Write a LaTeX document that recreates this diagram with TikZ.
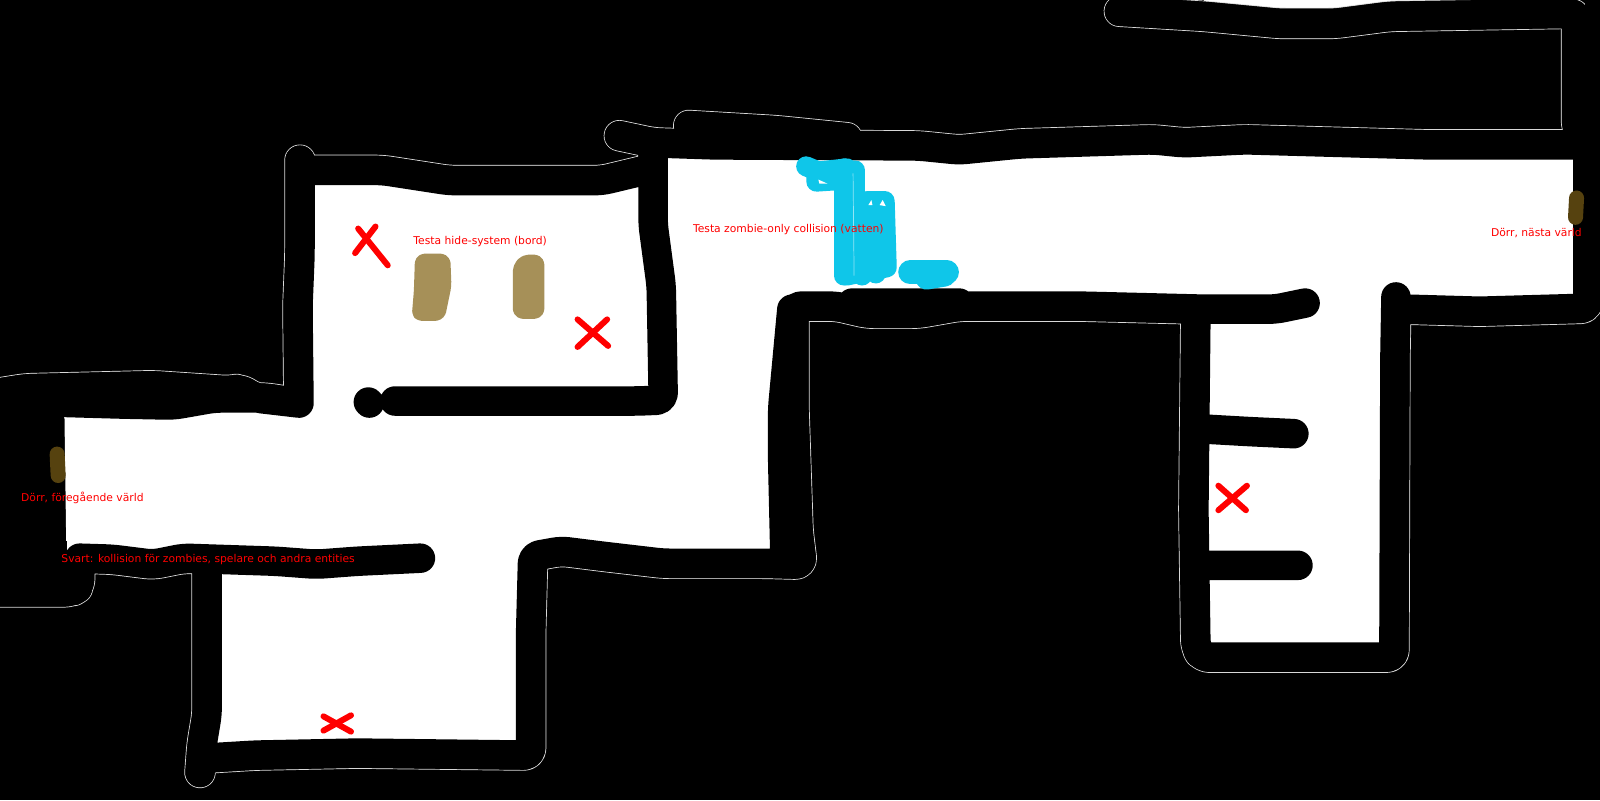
\documentclass[tikz,border=0pt]{standalone}
\usepackage{fontspec}
\setmainfont{DejaVu Sans}
\definecolor{watercol}{HTML}{0FC6E9}
\definecolor{tablecol}{HTML}{A69058}
\definecolor{doorcol}{HTML}{56420F}
\definecolor{edgecol}{HTML}{D8D8D8}
\newcommand{\wallpaths}{
	%top right strip
	(1097,11) -- (1180,16) -- (1254,23) -- (1308,23) -- (1362,16) -- (1545,13) -- (1545,125) -- (1556,145) -- (1556,302) -- (1450,305) -- (1380,303)
	%right room
	(1368,291) -- (1367,350) -- (1366,644) -- (1240,644) -- (1178,644) -- (1172,634) -- (1170,500) -- (1172,305)
	(1172,420) -- (1225,423) -- (1268,425)
	(1172,554) -- (1272,554)
	%upper corridor
	(607,133) -- (640,140) -- (700,142) -- (900,143) -- (940,147) -- (1000,141) -- (1130,137) -- (1160,140) -- (1220,137) -- (1400,142) -- (1550,142)
	(675,123) -- (760,128) -- (830,135)
	%lower corridor wall
	(1279,297) -- (1250,303) -- (1180,303) -- (1060,300) -- (940,300) -- (900,307) -- (850,307) -- (820,300) -- (778,300) -- (778,400) -- (780,460) -- (782,520) -- (786,553) -- (750,552) -- (650,552) -- (590,545) -- (550,540) -- (522,545) -- (520,620) -- (520,740) -- (350,738) -- (250,740) -- (200,743)
	(835,297) -- (940,297)
	(776,303) -- (767,400) -- (767,450) -- (769,537)
	(203,560) -- (203,700) -- (198,730) -- (196,757)
	%hide room
	(294,157) -- (294,250) -- (292,300) -- (293,395)
	(294,167) -- (375,167) -- (440,177) -- (590,177) -- (640,165)
	(640,150) -- (640,220) -- (648,280) -- (650,392) -- (625,393) -- (387,393)
	(361,394) -- (362,395)
	%left walls
	(0,385) -- (25,381) -- (150,378) -- (225,383) -- (235,381) -- (250,390) -- (293,395)
	(50,394) -- (120,396) -- (170,397) -- (210,390) -- (260,390) -- (293,395)
	(78,547) -- (110,548) -- (150,553) -- (180,547) -- (270,550) -- (310,553) -- (350,550) -- (412,547)
	(78,547) -- (78,575) -- (70,580) -- (0,580)
}
\tikzset{
	wallline/.style={line cap=round, line join=round, rounded corners=7pt, line width=29.5pt, black},
	edgeline/.style={wallline, line width=31.4pt, edgecol},
	cross/.style={red, line width=6pt, line cap=round},
	water/.style={watercol, line width=20pt, line cap=round, line join=round},
	tableblock/.style={tablecol, fill=tablecol, line width=11pt, line join=round, rounded corners=4pt},
	doorblock/.style={doorcol, line width=15pt, line cap=round},
	note/.style={red, font=\fontsize{10.75}{12}\selectfont, anchor=base west, inner sep=0pt}
}
\begin{document}
\begin{tikzpicture}[x=1.0204pt, y=-1.0204pt]
	\useasboundingbox (0,0) rectangle (1568,784);
	\clip (0,0) rectangle (1568,784);
	
	%Ground
	\fill[black] (0,0) rectangle (1568,784);
	\fill[white] (1180,0) rectangle (1545,20);
	
	%Walls, outline first
	\draw[edgeline] \wallpaths;
	\draw[wallline] \wallpaths;
	\fill[white, rounded corners=2pt] (63,395) -- (293,395) -- (294,167) -- (375,167) -- (440,177) -- (590,177) -- (640,165) -- (640,142) -- (1556,142) -- (1556,302) -- (1366,303) -- (1366,644) -- (1172,644) -- (1172,303) -- (775,300) -- (775,552) -- (522,552) -- (520,740) -- (203,740) -- (203,550) -- (78,548) -- (65,540) -- cycle;
	\draw[wallline] \wallpaths;
	\fill[black] (0,380) rectangle (63,580);
	\fill[black] (63,530) rectangle (66,580);
	\fill[black] (1553,0) rectangle (1568,302);
	
	%Tables
	\draw[tableblock] (412,254) -- (436,254) -- (437,280) -- (431,309) -- (409,309) -- (411,285) -- cycle;
	\draw[tableblock] (508,262) -- (514,255) -- (528,255) -- (528,307) -- (508,307) -- cycle;
	
	%Water
	\draw[water] (790,163) -- (802,168) -- (830,165);
	\draw[water] (800,168) -- (800,178) -- (830,176);
	\draw[water] (827,165) -- (827,270);
	\draw[water] (838,167) -- (838,200);
	\draw[water] (845,197) -- (845,270);
	\draw[water] (858,200) -- (858,268);
	\draw[water] (850,197) -- (867,197) -- (869,262) -- (830,270);
	\draw[water, line width=24pt] (892,267) -- (928,267);
	\draw[water, line width=22pt] (908,273) -- (926,270);
	\draw[white!55!watercol, line width=0.7pt] (836,170) -- (837,270);
	\fill[white] (802,176) -- (811,180) -- (803,180) -- cycle;
	\fill[white] (851,201) -- (854,196) -- (855,201) -- cycle;
	\fill[white] (862,201) -- (865,196) -- (868,202) -- cycle;
	
	%Doors
	\draw[doorblock] (56,445) -- (57,466);
	\draw[doorblock] (1545,194) -- (1544,213);
	
	%Crosses
	\draw[cross] (348,248) -- (368,222);
	\draw[cross] (351,224) -- (380,260);
	\draw[cross] (566,340) -- (595,313);
	\draw[cross] (566,313) -- (596,339);
	\draw[cross] (1194,500) -- (1222,476);
	\draw[cross] (1194,476) -- (1221,500);
	\draw[cross] (317,716) -- (344,701);
	\draw[cross] (317,702) -- (344,717);
	
	%Notes
	\node[note] (prevdoor) at (20.6,491) {Dörr, föregående värld};
	\node[note] (blacknote) at (60,551) {Svart: kollision för zombies, spelare och andra entities};
	\node[note] (hidenote) at (405,240) {Testa hide-system (bord)};
	\node[note] (waternote) at (679,228) {Testa zombie-only collision (vatten)};
	\node[note] (nextdoor) at (1461,232) {Dörr, nästa värld};
\end{tikzpicture}
\end{document}
